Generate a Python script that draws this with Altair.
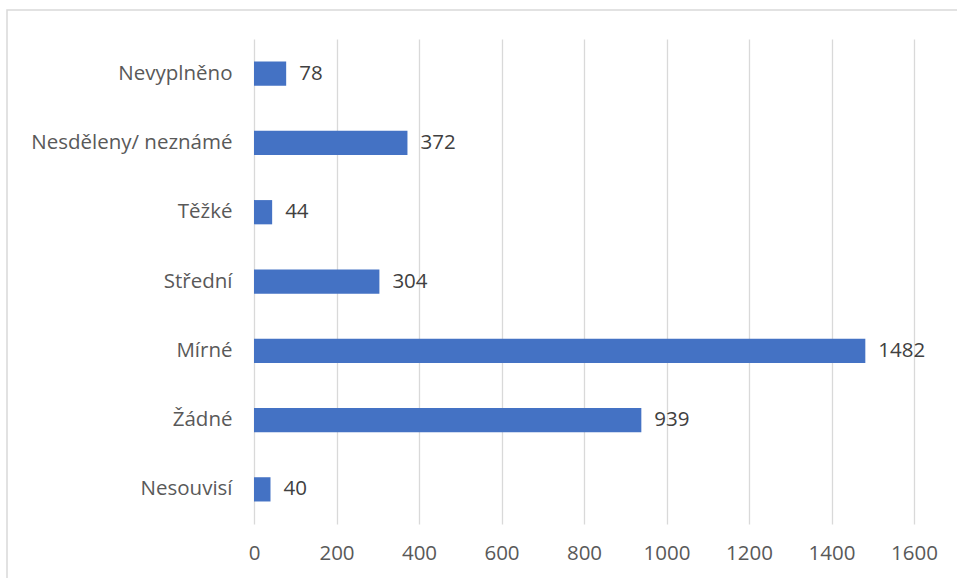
import altair as alt
import pandas as pd

categories = ["Nevyplněno", "Nesděleny/ neznámé", "Těžké", "Střední", "Mírné", "Žádné", "Nesouvisí"]
values = [78, 372, 44, 304, 1482, 939, 40]
x_ticks = [0, 200, 400, 600, 800, 1000, 1200, 1400, 1600]

df = pd.DataFrame({"cat": categories, "val": values})

FONT = "Open Sans"
TXT = "#595959"
BLUE = "#4472C4"

y_enc = alt.Y("cat:N", sort=categories, title=None,
              scale=alt.Scale(paddingInner=0.65, paddingOuter=0.325),
              axis=alt.Axis(domain=False, ticks=False, grid=False, labelFont=FONT,
                            labelFontSize=20.5, labelColor=TXT, labelPadding=22, labelLimit=400))
x_enc = alt.X("val:Q", title=None,
              scale=alt.Scale(domain=[0, 1600], nice=False),
              axis=alt.Axis(values=x_ticks, format="d", domain=False, ticks=False, grid=True,
                            gridColor="#d9d9d9", gridWidth=1.3, labelFont=FONT,
                            labelFontSize=20.5, labelColor=TXT, labelPadding=19,
                            labelFlush=False, labelOverlap=False))

border = alt.Chart(pd.DataFrame({"a": [0]})).mark_rect(
    fill=None, stroke="#d9d9d9", strokeWidth=1.5, clip=False
).encode(x=alt.value(-247), x2=alt.value(760), y=alt.value(-29), y2=alt.value(600))

bars = alt.Chart(df).mark_bar(color=BLUE).encode(y=y_enc, x=x_enc)
labels = alt.Chart(df).mark_text(align="left", baseline="middle", dx=13, font=FONT,
                                 fontSize=20.5, color="#404040").encode(
    y=alt.Y("cat:N", sort=categories), x="val:Q", text="val:Q")

chart = alt.layer(border, bars, labels).properties(
    width=660, height=485,
    autosize=alt.AutoSizeParams(type="none"),
    padding={"left": 254, "top": 39, "right": 43, "bottom": 54},
    background="white",
).configure_view(stroke=None)

chart.save("out.html", embed_options={"renderer": "svg", "actions": False})
